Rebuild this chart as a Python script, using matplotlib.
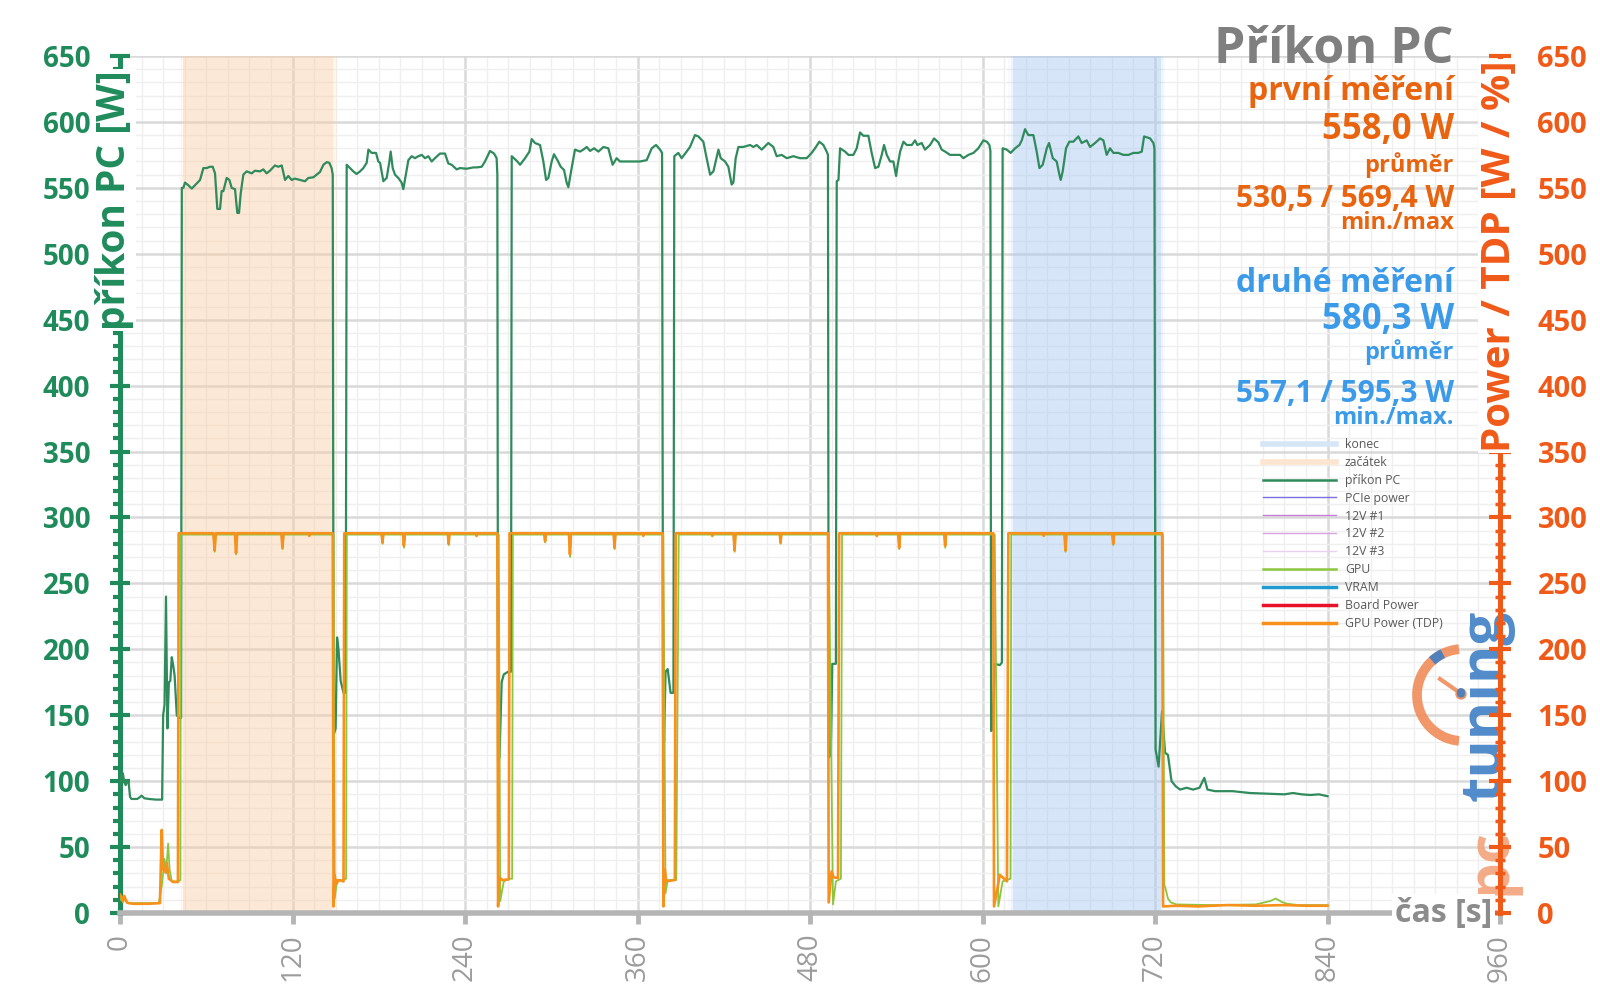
import matplotlib
matplotlib.use("Agg")
import matplotlib.pyplot as plt
from matplotlib.lines import Line2D
from matplotlib.patches import Arc, Circle
from matplotlib.ticker import MultipleLocator

plt.rcParams['font.family'] = ['Open Sans', 'DejaVu Sans']

# measurement windows (s)
span_start = [44, 621]
span_end = [148, 724]

# příkon PC [W] (time s, watts)
pc_points = [
    (0, 95), (1, 104), (2, 106), (3, 99), (4, 97), (5, 100), (6, 99), (7, 88), (8, 86.5), (12, 86.5),
    (14, 88), (15, 89), (17, 87), (20, 86.5), (25, 86), (29.3, 86), (30, 150), (31, 158), (32, 240),
    (33, 140), (34, 175), (35, 176), (36, 194), (37, 188), (38, 180), (39.5, 150), (41, 148), (42.5, 148),
    # load 1
    (43, 550), (44.1, 550), (45.2, 554), (47.5, 552), (49.9, 549.5), (52.2, 552), (55.7, 556), (58, 565),
    (60.3, 565), (62.6, 566), (64.5, 566), (66.1, 561), (67.7, 534), (69.6, 534), (70.7, 547.5),
    (71.9, 547.5), (74.2, 557.5), (76.1, 556), (77.7, 550), (80, 549), (81.6, 531), (82.8, 531), (84, 546),
    (85.8, 560), (88.1, 562.5), (91.6, 561), (93.9, 563), (97.4, 562.5), (99.7, 564), (102, 561),
    (104.3, 563), (107.8, 567), (110.1, 566), (112.5, 567), (114.8, 556), (117.1, 559), (119.4, 556),
    (121.7, 557), (125.2, 556), (128.7, 555), (131, 557.5), (134.5, 558), (136.8, 560), (139.1, 562),
    (141.5, 567.5), (143.8, 569.5), (145.6, 569), (147.2, 565),
    (148, 560), (148.6, 135), (150, 140), (151, 209), (152, 200), (153.5, 176), (155.5, 167), (157, 167),
    # load 2
    (157.7, 567.5), (160, 565), (162.3, 562.5), (164.6, 560.5), (167, 562.5), (169.3, 565), (171.6, 569),
    (172.8, 579), (175.1, 576.5), (178.1, 576.5), (179.7, 570), (180.9, 569), (183.2, 555), (185.5, 557.5),
    (187.4, 570), (188.3, 577.5), (189.7, 565), (191.3, 560), (193.6, 557.5), (195.9, 554), (197.1, 549),
    (199, 561), (200.6, 571), (202.9, 574), (205.2, 572.5), (207.5, 574), (209.9, 575), (212.2, 572.5),
    (214.5, 574), (216.8, 570), (219.1, 572.5), (222.6, 576), (226.1, 576), (228.4, 568.5), (230.7, 567.5),
    (234.2, 564), (236.5, 565), (241.2, 564.5), (245.8, 565.5), (248.1, 565.5), (251.6, 566), (253.9, 570),
    (257.4, 578), (260.2, 576), (262, 572.5),
    (262.5, 560), (263, 115), (264, 118), (265.5, 175), (267, 181), (270, 183), (272, 183),
    # load 3
    (272.5, 574), (276, 570.5), (278.3, 567.5), (281.8, 572.5), (284.8, 577.5), (286.4, 587), (288.7, 584),
    (292.2, 582.5), (294.5, 570), (296.4, 556), (298, 557.5), (300.3, 570), (301.9, 575.5), (304.3, 571),
    (306.6, 566), (308.9, 563.5), (310.7, 554), (311.9, 550.5), (314.2, 565), (316.5, 579), (320, 577.5),
    (322.3, 579), (324.7, 581), (327, 578), (329.8, 580), (332.8, 577.5), (336.3, 581), (339.7, 580),
    (342.7, 567.5), (345.5, 572.5), (347.8, 570), (352.5, 570), (357.1, 570), (361.8, 570), (366.4, 571),
    (369.9, 580), (372.9, 582.5), (375.7, 579), (377.1, 576.5),
    (377.8, 150), (378.5, 130), (379.5, 183), (381, 185), (383, 167), (385, 167),
    # load 4
    (385.6, 574), (388.4, 576.5), (390.7, 572.5), (394.2, 577.5), (396.5, 581), (400, 590), (402.3, 589),
    (405.8, 585), (408.1, 572.5), (410.5, 560), (412.8, 562.5), (416.3, 579), (417.9, 572.5), (420.9, 570),
    (423.2, 566), (425.5, 552.5), (426.7, 554), (428.3, 572.5), (430.2, 581), (433.6, 581), (438.3, 582.5),
    (440.6, 581), (442.9, 582.5), (446.4, 579), (451, 584), (454.5, 581), (456.8, 574), (460.3, 575),
    (463.8, 572.5), (468.4, 574), (473.1, 572.5), (477.7, 572.5), (481.2, 576.5), (483.5, 580), (486.5, 585),
    (489.3, 582.5), (491.6, 577.5), (492.5, 575),
    (493, 118), (494.5, 120), (495.5, 189), (498, 189),
    # load 5
    (498.6, 555), (499.8, 556), (500.9, 580), (504.4, 577.5), (506.7, 575), (510.2, 575), (512.5, 580),
    (514.8, 592), (517.1, 589.5), (520.6, 589.5), (522.9, 576.5), (525.3, 565), (527.6, 566), (529.9, 575),
    (531.5, 582.5), (533.4, 575), (535.7, 570), (538, 570), (539.9, 559), (540.8, 566), (542.7, 577.5),
    (545, 585), (547.3, 582.5), (550.8, 582.5), (553.1, 586), (554.7, 582.5), (557.7, 584), (560, 579),
    (563.5, 582.5), (566.3, 587.5), (569.3, 584.5), (571.6, 579), (574, 577.5), (577.4, 575), (580.9, 575),
    (584.4, 575), (586.7, 572.5), (590.2, 575), (593.7, 576.5), (597.1, 580), (600.6, 586), (603, 585),
    (604.8, 582.5), (605.5, 578),
    (606, 138), (607, 140), (608.5, 189), (612, 188), (613.5, 190),
    # load 6
    (614, 580), (616.9, 579), (619.6, 576.5), (622.7, 580), (625.7, 582.5), (627.3, 586), (629.6, 594.5),
    (631.9, 590), (635.4, 590), (637.7, 577.5), (639.6, 565), (641.9, 567.5), (644.7, 580), (646.3, 584),
    (648.9, 572.5), (651.6, 570), (653.5, 560), (654.4, 556), (655.8, 562.5), (658.1, 580), (660.4, 585),
    (663.2, 585), (666.7, 589), (669, 584), (672.5, 586), (674.8, 581), (678.3, 584), (681.8, 587.5),
    (684.1, 586), (686.4, 575), (688.7, 580), (691.1, 576.5), (694.5, 576.5), (698, 575), (701.5, 575),
    (705, 576.5), (708.4, 576.5), (710.8, 577.5), (712.4, 589), (716.6, 587.5), (718.9, 584), (719.6, 580),
    # idle
    (720.4, 124), (722.5, 111), (724.9, 153), (727, 121.5), (729, 120), (731.5, 100), (734.5, 96),
    (737.5, 93.6), (742, 95), (746.5, 93.6), (751, 95), (754.3, 102.5), (756.5, 93.6), (761.8, 92.4),
    (774, 92.4), (786, 91), (798, 90.5), (810, 90), (816, 91), (822, 90), (828, 89.5), (834, 90), (840, 88.6),
]

# GPU [W]
gpu_points = [
    (0, 10), (1, 13), (2, 8), (3, 12), (4, 9), (5, 7.5), (10, 7.5), (27, 7.5), (29, 20), (31, 41), (32, 30),
    (33.5, 52.6), (34.5, 33), (36, 24), (40, 24), (42, 25), (42.4, 287),
    (65, 287), (65.9, 274), (66.7, 287), (80, 287), (80.8, 272), (81.6, 287), (112.3, 287), (113.1, 276),
    (113.8, 287), (148.6, 287),
    (149.4, 11), (151, 25), (155, 25), (157.3, 26), (157.8, 287),
    (182, 287), (182.7, 280), (183.3, 287), (196.8, 287), (197.6, 277), (198.3, 287), (228, 287),
    (228.7, 279), (229.3, 287), (263.5, 287),
    (264.5, 9), (267, 24), (271, 26), (272.8, 26), (273.3, 287),
    (295.1, 287), (295.8, 281), (296.4, 287), (312.3, 287), (313.1, 270), (313.8, 287), (343.4, 287),
    (344.1, 276), (344.7, 287), (378, 287),
    (379.5, 15), (381, 25), (387, 25), (388.7, 287),
    (426.8, 287), (427.6, 274), (428.3, 287), (458.9, 287), (459.6, 280), (460.2, 287), (493, 287),
    (496, 6.5), (498, 24), (501.5, 26), (502.3, 287),
    (541.4, 287), (542.1, 276), (542.7, 287), (573.4, 287), (574.1, 277), (574.7, 287), (608.5, 287),
    (611, 5), (614, 24), (619.5, 26), (620, 287),
    (657, 287), (657.8, 274), (658.5, 287), (690.3, 287), (691, 279), (691.6, 287), (725.5, 287),
    (726.5, 21.5), (727.5, 17.8), (729, 11), (731, 8), (735, 6.5), (760, 6), (790, 6.5), (800, 9),
    (804, 11), (808, 8.5), (812, 7), (820, 6), (840, 6),
]

# GPU Power (TDP) [W]
tdp_points = [
    (0, 14), (1, 12), (2, 9), (3, 13), (4, 10), (5, 8), (6, 7.5), (9, 7), (20, 7), (27.8, 7.5), (29, 63),
    (30, 33), (31.5, 31), (32.5, 38), (34, 26), (37, 23.5), (40.3, 23.5), (40.8, 288),
    (65, 288), (65.8, 275), (66.6, 288), (80, 288), (80.7, 273), (81.5, 288), (112.3, 288), (113, 277),
    (113.7, 288), (131.2, 288), (131.7, 286), (132.2, 288), (148, 288),
    (148.6, 5), (149.2, 29), (150.5, 22), (152, 25), (155.5, 24), (156, 288),
    (182, 288), (182.6, 281), (183.2, 288), (196.8, 288), (197.5, 278.5), (198.2, 288), (228, 288),
    (228.6, 280), (229.2, 288), (247.5, 288), (248, 286), (248.5, 288), (262.5, 288),
    (263, 5), (264, 27), (266, 25), (270.5, 25.5), (271, 288),
    (295.1, 288), (295.7, 282), (296.3, 288), (312.3, 288), (313, 272), (313.7, 288), (343.4, 288),
    (344, 277), (344.6, 288), (363.5, 288), (364, 286), (364.5, 288), (377.5, 288),
    (378, 5), (379, 33), (380, 24), (386, 25), (386.6, 288),
    (411.5, 288), (412, 286), (412.5, 288), (426.8, 288), (427.5, 275), (428.2, 288), (458.9, 288),
    (459.5, 281), (460.1, 288), (492.5, 288),
    (493, 8), (495, 31.5), (496.5, 27), (499.5, 26.6), (500.3, 288),
    (526, 288), (526.5, 286), (527, 288), (541.4, 288), (542, 277), (542.6, 288), (573.4, 288),
    (574, 278.5), (574.6, 288), (607.5, 288),
    (608, 5), (610.3, 18), (612, 29), (617, 24), (618, 288),
    (642.1, 288), (642.6, 286), (643.1, 288), (657, 288), (657.7, 275), (658.4, 288), (690.3, 288),
    (690.9, 280), (691.5, 288), (725, 288),
    (725.6, 5), (735, 5.5), (750, 5), (770, 6), (790, 5.5), (810, 6), (825, 5.5), (840, 5.5),
]

legend_labels = ['konec', 'začátek', 'příkon PC', 'PCIe power', '12V #1', '12V #2', '12V #3',
                 'GPU', 'VRAM', 'Board Power', 'GPU Power (TDP)']

first_texts = ['první měření', '558,0 W', 'průměr', '530,5 / 569,4 W', 'min./max']
second_texts = ['druhé měření', '580,3 W', 'průměr', '557,1 / 595,3 W', 'min./max.']

GREEN = '#1f8b5b'
ORANGE = '#f05a19'
GRAY = '#9c9c9c'

W, H = 1600, 1008


def px(x, y):
    return x / W, 1 - y / H


fig = plt.figure(figsize=(16, 10.08), dpi=100, facecolor='white')
ax = fig.add_axes([120 / W, 1 - 913 / H, 1380 / W, 857 / H])
ax2 = ax.twinx()
ax.set_zorder(1)
ax2.set_zorder(3)
ax2.patch.set_visible(False)

ax.set_xlim(0, 960)
ax.set_ylim(0, 650)
ax2.set_ylim(0, 650)

ax.xaxis.set_major_locator(MultipleLocator(120))
ax.xaxis.set_minor_locator(MultipleLocator(15))
for a in (ax, ax2):
    a.yaxis.set_major_locator(MultipleLocator(50))
    a.yaxis.set_minor_locator(MultipleLocator(10))

ax.set_axisbelow(True)
ax.grid(which='major', color='#d9d9d9', lw=1.8)
ax.grid(which='minor', color='#efefef', lw=1.0)

# shaded windows with soft edges
for s, e, c in zip(span_start, span_end, ['#fbcfa8', '#a9caf4']):
    ax.axvspan(s, e, color=c, alpha=0.33, lw=0, zorder=1)
    ax.axvspan(s - 1.5, e + 1.5, color=c, alpha=0.12, lw=0, zorder=1)
    ax.axvspan(s - 3, e + 3, color=c, alpha=0.08, lw=0, zorder=1)

pc_t, pc_w = zip(*pc_points)
gpu_t, gpu_w = zip(*gpu_points)
tdp_t, tdp_w = zip(*tdp_points)
ax.plot(pc_t, pc_w, color='#2f8a5c', lw=1.6, zorder=3)
ax2.plot(gpu_t, gpu_w, color='#8cc63f', lw=1.3)
ax2.plot(tdp_t, tdp_w, color='#f8901c', lw=1.9)

# spines
for side in ('top', 'right'):
    ax.spines[side].set_visible(False)
for side in ('top', 'left', 'bottom'):
    ax2.spines[side].set_visible(False)
ax.spines['left'].set_color(GREEN)
ax.spines['left'].set_linewidth(3.6)
ax.spines['bottom'].set_color('#b5b5b5')
ax.spines['bottom'].set_linewidth(4)
ax2.spines['right'].set_color(ORANGE)
ax2.spines['right'].set_linewidth(3.6)

ax.tick_params(axis='y', which='major', direction='inout', length=15, width=3, color=GREEN,
               labelcolor=GREEN, labelsize=20, pad=14)
ax.tick_params(axis='y', which='minor', direction='out', length=5, width=3, color=GREEN)
ax2.tick_params(axis='y', which='major', direction='inout', length=16, width=3, color=ORANGE,
                labelcolor=ORANGE, labelsize=21, pad=19)
ax2.tick_params(axis='y', which='minor', direction='inout', length=7, width=2.5, color=ORANGE)
ax.tick_params(axis='x', which='major', direction='out', length=8, width=3.5, color='#b5b5b5',
               labelcolor=GRAY, labelsize=20, labelrotation=90, pad=7)
ax.tick_params(axis='x', which='minor', length=0)
for lab in ax.get_yticklabels() + ax2.get_yticklabels():
    lab.set_fontweight('bold')

# logo (watermark)
lg = fig.add_axes([0, 0, 1, 1])
lg.set_zorder(2)
lg.patch.set_visible(False)
lg.set_xlim(0, W)
lg.set_ylim(H, 0)
lg.axis('off')
lg.add_patch(Arc((1463, 695), 92, 92, theta1=95, theta2=265, color='#f08c5a', lw=7, alpha=0.9))
lg.add_patch(Arc((1463, 695), 92, 92, theta1=228, theta2=244, color='#3f7fc4', lw=7, alpha=0.9))
lg.plot([1463, 1440], [695, 679], color='#f08c5a', lw=3, alpha=0.9)
lg.add_patch(Circle((1461, 694), 5, color='#f08c5a', alpha=0.9))
lg.text(1486, 705, 'tuning', rotation=90, ha='center', va='center', color='#3f7fc4',
        fontsize=42, fontweight='bold', alpha=0.9)
lg.text(1490, 862, 'pc', rotation=90, ha='center', va='center', color='#f3a27a',
        fontsize=42, fontweight='bold', alpha=0.9)

# axis labels
fig.text(*px(115, 200), 'příkon PC [W]', rotation=90, ha='center', va='center', color=GREEN,
         fontsize=28, fontweight='bold', zorder=10,
         bbox=dict(fc='white', ec='none', pad=1))
fig.text(*px(1499, 256), 'Power / TDP [W / %]', rotation=90, ha='center', va='center', color=ORANGE,
         fontsize=29, fontweight='bold', zorder=10,
         bbox=dict(fc='white', ec='none', pad=1))
fig.text(*px(1492, 913), 'čas [s]', ha='right', va='center', color='#8c8c8c',
         fontsize=23, fontweight='bold', zorder=10,
         bbox=dict(fc='white', ec='none', pad=2))

# title and statistics
RX = 1454
fig.text(*px(RX, 63), 'Příkon PC', ha='right', va='baseline', color='#7f7f7f',
         fontsize=36, fontweight='bold', zorder=10)
sizes = [23, 25, 17, 21.5, 17]
first_y = [100, 139, 172, 207, 229]
second_y = [292, 329, 359, 402, 424]
for txt, y, fs in zip(first_texts, first_y, sizes):
    fig.text(*px(RX, y), txt, ha='right', va='baseline', color='#e8640f',
             fontsize=fs, fontweight='bold', zorder=10)
for txt, y, fs in zip(second_texts, second_y, sizes):
    fig.text(*px(RX, y), txt, ha='right', va='baseline', color='#3c9be8',
             fontsize=fs, fontweight='bold', zorder=10)

# legend
leg_colors = ['#d6e6f6', '#fde5cf', '#2f8a5c', '#7b6fe0', '#c77dd8', '#d9a3e3', '#ead0f0',
              '#8cc63f', '#1f9bcf', '#e8102a', '#f8901c']
leg_widths = [4, 4, 1.8, 1, 1, 1, 1, 1.8, 2.5, 2.5, 2.5]
handles = [Line2D([], [], color=c, lw=w, label=l) for c, w, l in zip(leg_colors, leg_widths, legend_labels)]
leg = fig.legend(handles=handles, loc='upper left', bbox_to_anchor=px(1263, 438), frameon=False,
                 fontsize=8.8, handlelength=6.0, handletextpad=0.7, labelspacing=0.40,
                 borderpad=0, borderaxespad=0, labelcolor='#595959')
leg.set_zorder(10)

fig.savefig('out.png', dpi=100, facecolor='white')
